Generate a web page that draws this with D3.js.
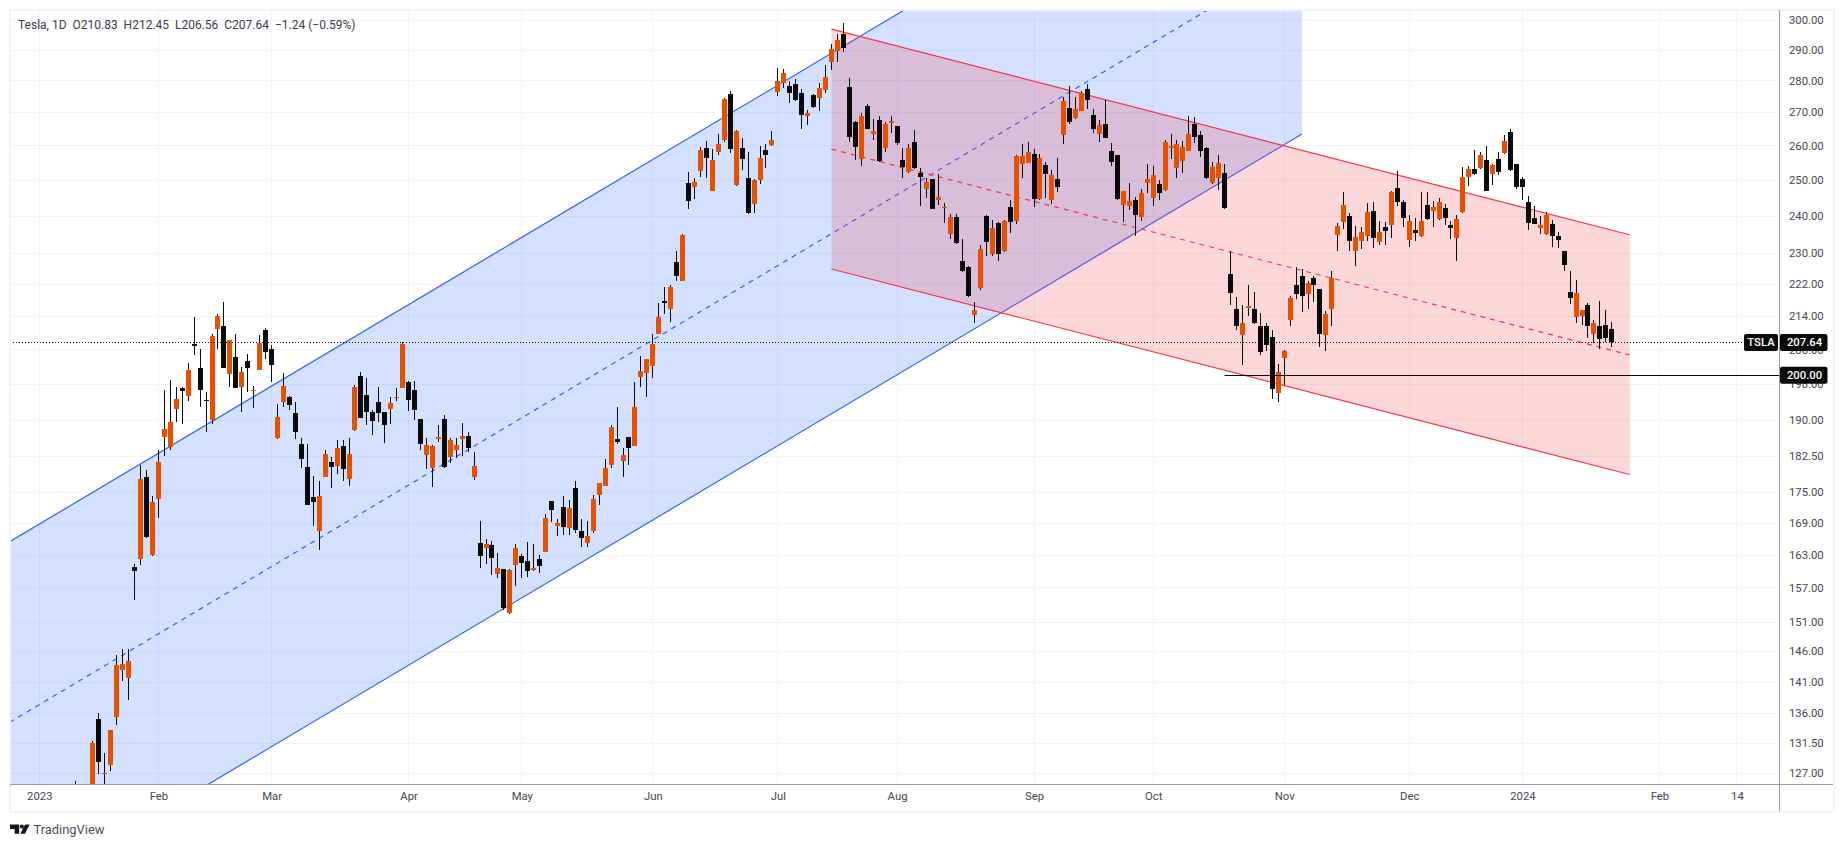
<!DOCTYPE html>
<html><head><meta charset="utf-8">
<script src="https://cdn.jsdelivr.net/npm/d3@7/dist/d3.min.js"></script>
<style>
html,body{margin:0;padding:0;background:#fff;overflow:hidden}
svg{display:block}
text{font-family:Roboto,"Liberation Sans",sans-serif}
</style></head><body>
<svg id="c" width="1843" height="847"></svg>
<script>
const firstBar = -5;
const open = [118,110,112,119.9,120,118.5,109.1,110.5,103,118.9,121,122,122.6,116.5,
125,135.1,126.9,128.2,135.5,142.9,141.6,160.7,162.2,178.1,162.9,
173.7,186.5,184.2,192.4,197.2,195.4,207.3,201.7,194.4,190.1,210.9,211.7,200.4,204.3,197.4,203.4,196.5,201.3,210.5,
206.1,186.1,194.0,195.1,191.5,185.0,180.1,174.1,167.4,178.1,181.1,180.3,184.4,177.7,187.8,199.9,195.6,191.7,194.0,191.7,192.4,194.9,197.2,
198.5,196.7,190.3,182.7,179.9,185.9,190.3,182.3,183.6,185.9,186.7,178.1,165.2,164.2,164.8,159.5,160.4,152.5,161.1,
162.7,161.8,160.2,162.2,163.5,173.3,168.4,172.1,168.0,175.9,167.4,165.2,167.4,174.5,176.3,180.5,185.9,181.3,186.5,184.6,199.7,200.6,
202.2,209.7,217.7,215.8,227.5,222.8,249.0,247.9,252.4,259.2,246.8,258.0,261.6,275.7,248.4,259.2,250.6,243.1,249.8,258.6,260.1,
276.3,279.2,278.2,278.8,276.0,268.9,275.4,274.5,277.0,286.0,289.6,295.3,277.9,267.1,256.0,272.0,263.4,267.7,259.2,266.8,
265.8,255.7,252.1,261.0,251.8,247.3,250.1,244.2,242.0,234.9,239.5,228.0,226.2,214.3,220.9,239.8,229.8,237.9,230.6,242.3,238.5,254.5,254.8,
257.4,244.5,254.2,244.2,250.1,263.1,271.3,268.3,270.4,277.3,269.2,263.4,266.5,258.3,257.1,242.9,242.6,244.2,239.5,249.2,
244.8,248.7,247.0,259.2,253.3,255.4,258.3,266.5,263.1,259.2,249.0,250.4,251.8,224.4,215.8,209.5,216.0,215.8,211.7,211.5,209.0,196.0,
204.0,213.1,221.8,223.9,219.4,223.4,220.6,209.5,215.8,234.7,238.2,239.8,230.4,233.1,234.4,241.2,232.8,236.8,237.4,247.6,243.7,
233.3,236.0,234.4,242.9,241.2,239.0,242.0,237.4,233.9,240.9,250.9,253.0,253.3,255.7,251.6,256.0,257.7,264.0,254.5,
250.1,243.7,239.3,236.6,234.9,237.7,234.4,230.4,219.9,213.8,214.1,216.7,209.7,211.7,211.9,210.83];
const high = [125.8,116.3,119.6,124.4,124,118.8,114.6,111.7,114.4,123.5,122.6,125.9,124.1,122.6,
131.7,136.1,130.0,133.5,145.3,146.3,146.3,161.3,180.5,179.5,174.3,
183.6,196.7,199.0,197.4,197.4,202.9,213.8,206.1,196.2,209.7,214.5,217.5,208.3,209.7,202.0,205.0,197.6,209.5,211.2,
207.1,193.5,200.6,195.4,194.0,186.1,185.0,178.2,177.2,183.6,182.1,185.7,185.7,186.3,197.8,200.8,199.4,192.2,197.4,191.7,195.1,197.2,207.8,
198.8,198.8,190.3,186.1,184.8,189.0,191.2,186.3,186.1,189.5,187.4,183.3,169.3,165.9,165.5,163.3,160.4,160.4,165.0,
163.1,165.3,165.0,162.9,170.7,173.3,169.7,174.3,173.5,177.2,169.7,169.3,174.5,176.9,181.7,189.0,192.8,184.0,186.5,198.5,204.5,203.8,
209.7,217.3,221.1,221.6,230.6,234.9,252.1,250.6,259.5,261.3,258.9,263.4,274.5,276.7,264.6,262.2,258.0,250.1,259.8,260.4,264.3,
284.0,283.7,279.8,280.4,277.3,270.7,275.7,279.2,285.0,291.9,295.3,299.0,280.8,267.4,269.8,272.6,268.0,268.9,267.1,268.9,
265.8,259.2,260.4,264.6,253.3,250.6,250.1,251.6,243.6,240.4,240.4,233.6,226.5,217.5,232.0,240.1,238.7,238.2,238.7,244.2,257.1,260.4,261.0,
258.9,257.4,255.1,252.7,256.3,274.8,278.2,274.8,276.7,278.8,271.0,267.7,273.8,260.7,257.1,246.9,249.2,245.1,247.3,254.5,
253.9,249.8,261.6,263.4,261.6,261.3,268.9,268.6,264.3,259.5,255.1,257.1,254.5,230.4,218.7,216.7,221.8,219.9,214.8,212.4,210.7,202.7,
205.9,218.9,226.2,225.9,222.8,223.9,220.6,215.3,225.2,237.9,246.5,240.6,237.1,236.8,243.4,243.7,238.5,238.2,246.8,252.4,244.2,
240.1,239.3,246.5,246.5,244.0,244.8,243.1,238.5,240.1,253.6,253.9,258.6,258.0,259.8,254.5,258.0,263.1,264.9,254.5,
250.9,245.3,242.6,239.8,240.9,238.7,235.5,230.6,225.2,223.1,215.5,217.2,213.1,217.7,215.5,212.45];
const low = [108,108.2,110,119,118,104.6,107.5,107.2,101.8,117.1,114.9,120.5,117,115.6,
122.5,126.9,124.5,127.4,134.2,141.1,138.1,154.8,161.1,166.2,162.7,
169.9,182.5,183.6,189.7,189.3,194.2,204.7,192.9,187.4,189.3,206.1,201.6,197.4,197.1,191.7,196.3,192.6,201.2,203.8,
198.5,185.9,192.9,192.2,185.9,179.9,172.4,168.4,163.9,178.0,175.9,178.7,177.2,176.3,187.7,190.5,189.0,186.9,189.7,185.2,189.3,194.2,197.1,
192.0,190.1,183.6,179.7,176.1,185.4,180.0,180.9,181.9,182.5,183.3,177.5,160.6,161.3,159.3,158.7,153.0,152.3,157.2,
158.7,158.9,160.0,159.6,163.4,169.1,166.5,166.7,166.7,167.1,164.4,164.4,167.1,172.5,176.2,179.9,185.0,178.1,180.5,184.5,197.4,195.1,
199.4,209.6,214.5,212.5,222.8,222.7,241.8,244.5,250.9,250.4,246.7,257.1,261.0,257.7,248.1,252.7,240.5,240.6,248.7,253.3,259.8,
275.1,277.6,272.9,273.5,264.9,266.2,271.3,270.4,276.0,283.4,286.0,289.2,261.0,255.7,253.9,264.8,261.6,255.1,258.0,263.7,
260.1,250.4,251.8,253.0,242.6,244.8,241.7,242.9,237.9,233.6,232.4,225.1,218.7,212.3,220.4,229.3,229.3,228.0,230.1,235.3,237.7,250.4,254.7,
242.3,244.4,244.8,243.1,246.5,260.4,266.5,268.0,270.3,271.0,263.7,261.0,262.1,253.9,244.2,238.2,241.5,234.4,238.5,246.2,
242.6,244.2,246.9,256.0,250.4,251.8,258.2,260.7,256.6,250.1,248.7,247.0,241.9,216.7,210.5,202.4,214.1,212.1,204.7,205.7,194.7,194.0,
197.8,211.5,218.2,215.0,215.8,217.5,206.6,205.7,211.7,230.4,236.3,230.4,226.5,230.9,233.1,231.2,232.0,232.0,233.9,242.6,236.8,
231.6,233.1,234.3,238.9,236.8,238.9,237.4,233.6,228.0,240.8,248.1,251.5,253.2,246.7,248.4,251.3,257.6,252.4,247.3,
244.2,236.0,237.6,234.9,234.8,231.6,231.2,225.2,217.0,212.2,211.9,208.8,207.6,206.1,207.8,206.56];
const close = [109,112.7,118,123.2,121,108.1,113.6,110.3,113.1,119.7,118.7,123.2,123.6,122.4,
131.5,128.6,127.0,133.4,143.7,143.9,144.4,160.0,177.7,166.3,173.1,
181.1,188.2,189.7,194.7,196.5,201.3,206.8,196.7,194.2,209.2,214.1,201.7,208.3,197.2,200.8,201.7,196.7,207.5,205.4,
202.4,190.8,197.6,193.3,187.4,181.7,172.5,173.1,174.3,182.9,180.1,184.0,179.7,182.9,197.4,190.6,191.7,189.9,191.5,189.0,193.8,195.1,207.3,
194.4,192.2,185.0,184.8,184.4,186.5,180.1,185.7,184.8,186.7,184.0,180.3,162.7,165.0,162.4,160.6,153.4,160.2,164.2,
161.4,160.0,160.6,160.9,169.9,171.6,168.9,168.2,171.9,167.6,166.1,166.5,173.7,176.9,179.9,188.6,185.4,182.7,184.0,193.0,201.1,203.8,
207.3,213.8,217.2,221.1,224.1,234.7,244.0,249.5,258.6,256.3,255.7,260.4,274.2,258.9,264.3,256.0,240.6,249.8,256.3,257.1,261.6,
279.8,282.4,276.0,273.8,269.2,269.8,271.7,277.6,281.1,290.2,293.3,290.6,262.5,259.5,268.9,264.9,264.3,255.4,266.5,267.4,
260.7,253.6,259.2,253.3,250.9,249.5,241.8,245.1,242.3,239.5,232.5,225.2,218.9,215.5,230.9,232.8,236.6,229.6,238.5,238.2,256.9,256.9,258.0,
244.5,256.3,251.6,251.3,247.9,273.5,267.1,271.0,276.0,273.8,264.9,266.2,262.2,255.1,244.5,246.8,244.0,240.1,246.2,250.1,
251.3,246.2,261.0,259.8,260.4,259.5,263.4,262.5,258.3,250.6,253.6,254.8,242.0,219.6,211.7,212.4,216.5,212.2,205.4,207.1,197.0,200.8,
205.7,218.4,219.4,218.9,222.1,221.6,209.7,214.5,223.4,237.1,242.9,233.1,234.1,235.5,240.9,233.9,235.5,235.8,246.5,243.7,239.3,
238.5,235.3,238.5,239.0,242.3,243.7,239.3,236.6,239.0,250.9,253.0,251.6,257.1,246.8,254.2,252.1,261.3,252.7,247.9,
247.9,237.9,237.7,237.4,240.1,234.4,233.3,226.8,218.4,219.6,215.5,211.7,212.2,208.5,208.8,207.64];

const priceTicks = [300,290,280,270,260,250,240,230,222,214,206,198,190,182.5,175,169,163,157,151,146,141,136,131.5,127];
const timeLabels = ["2023","Feb","Mar","Apr","May","Jun","Jul","Aug","Sep","Oct","Nov","Dec","2024","Feb","14"];
const timeBars = [0,20,39,62,81,103,124,144,167,187,209,230,249,272,285];

// channels: bar index at each end, then prices at [start, end]
const blueBars = [-5,212];
const blueUpper = [165.4,397.4];
const blueMiddle = [134.6,323.5];
const blueLower = [109.6,263.4];
const redBars = [133,267];
const redUpper = [296.9,234.8];
const redMiddle = [258.9,204.7];
const redLower = [225.8,178.6];

const lastClose = 207.64, levelPrice = 200, levelStartBar = 199, ticker = "TSLA";
const legend = "Tesla, 1D  O210.83  H212.45  L206.56  C207.64  \u22121.24 (\u22120.59%)";

const UP="#e65100", DOWN="#0a0a0a", GRID="#f2f3f7", BORDER="#f0f3fa", AXIS="#9a9ca5", TXT="#434651";
const BLUE="#2962ff", RED="#f23645";
const L=10, R=1779.5, T=10, B=784.5;

const svg=d3.select("#c");
const x=d3.scaleLinear().domain([0,264]).range([39.3,1611.8]);
const y=d3.scaleLog().domain([127,300]).range([773.3,20]);

svg.append("defs").append("clipPath").attr("id","plot").append("rect")
  .attr("x",L).attr("y",T).attr("width",R-L).attr("height",B-T);

// gridlines
const grid=svg.append("g").attr("shape-rendering","crispEdges");
grid.selectAll("line.h").data(priceTicks).join("line").attr("class","h")
  .attr("x1",L).attr("x2",R).attr("y1",d=>Math.round(y(d))+.5).attr("y2",d=>Math.round(y(d))+.5)
  .attr("stroke",GRID);
grid.selectAll("line.v").data(timeBars).join("line").attr("class","v")
  .attr("y1",T).attr("y2",B).attr("x1",d=>Math.floor(x(d))+.5).attr("x2",d=>Math.floor(x(d))+.5)
  .attr("stroke",GRID);

// channels
const plot=svg.append("g").attr("clip-path","url(#plot)");
function channel(bars,up,mid,lo,color){
  const poly=[[bars[0],up[0]],[bars[1],up[1]],[bars[1],lo[1]],[bars[0],lo[0]]];
  plot.append("polygon").attr("points",poly.map(p=>[x(p[0]),y(p[1])].join(",")).join(" "))
    .attr("fill",color).attr("fill-opacity",.2);
  [[up,null],[mid,"5,5"],[lo,null]].forEach(([v,dash])=>{
    plot.append("line").attr("x1",x(bars[0])).attr("x2",x(bars[1]))
      .attr("y1",y(v[0])).attr("y2",y(v[1]))
      .attr("stroke",color).attr("stroke-width",1.2).attr("stroke-dasharray",dash);
  });
}
channel(blueBars,blueUpper,blueMiddle,blueLower,BLUE);
channel(redBars,redUpper,redMiddle,redLower,RED);

// candles
const bars=open.map((o,k)=>({i:firstBar+k,o,h:high[k],l:low[k],c:close[k]}));
const cg=plot.append("g").attr("shape-rendering","crispEdges");
const cx=d=>Math.floor(x(d.i))+.5;
const col=d=>d.c>=d.o?UP:DOWN;
cg.selectAll("rect.w").data(bars).join("rect").attr("class","w")
  .attr("x",d=>cx(d)-.5).attr("width",1)
  .attr("y",d=>Math.round(y(d.h))).attr("height",d=>Math.max(1,Math.round(y(d.l))-Math.round(y(d.h))))
  .attr("fill",DOWN);
cg.selectAll("rect.b").data(bars).join("rect").attr("class","b")
  .attr("x",d=>cx(d)-2.5).attr("width",5)
  .attr("y",d=>Math.round(y(Math.max(d.o,d.c))))
  .attr("height",d=>Math.max(1,Math.round(y(Math.min(d.o,d.c)))-Math.round(y(Math.max(d.o,d.c)))))
  .attr("fill",col);

// last price dotted line and level ray
const py=Math.round(y(lastClose))+.5, ly=Math.round(y(levelPrice))+.5;
svg.append("line").attr("x1",L).attr("x2",1743).attr("y1",py).attr("y2",py)
  .attr("stroke","#000").attr("stroke-dasharray","1,2");
svg.append("line").attr("x1",x(levelStartBar)).attr("x2",R).attr("y1",ly).attr("y2",ly).attr("stroke","#0a0a0a");

// axes
const yAxis=d3.axisRight(y).tickValues(priceTicks).tickFormat(d3.format(".2f")).tickSize(0).tickPadding(9.5);
const ya=svg.append("g").attr("transform",`translate(${R},0)`).call(yAxis);
ya.select(".domain").remove();
ya.selectAll("text").attr("font-size",11.3).attr("fill",TXT).attr("font-family","Roboto,sans-serif");

const xAxis=d3.axisBottom(x).tickValues(timeBars).tickFormat((d,k)=>timeLabels[k]).tickSize(0).tickPadding(7);
const xa=svg.append("g").attr("transform",`translate(0,${B})`).call(xAxis);
xa.select(".domain").remove();
xa.selectAll("text").attr("font-size",11.3).attr("fill",TXT).attr("font-family","Roboto,sans-serif");

// frame + axis borders
const fr=svg.append("g").attr("shape-rendering","crispEdges");
fr.append("rect").attr("x",10).attr("y",10).attr("width",1823.5).attr("height",802)
  .attr("fill","none").attr("stroke",BORDER).attr("stroke-width",2);
fr.append("line").attr("x1",L).attr("x2",1833).attr("y1",B).attr("y2",B).attr("stroke",AXIS);
fr.append("line").attr("x1",R).attr("x2",R).attr("y1",T).attr("y2",811).attr("stroke",AXIS);

// badges
function badge(x0,w,yc,txt,anchorX){
  svg.append("rect").attr("x",x0).attr("y",yc-8.5).attr("width",w).attr("height",17).attr("rx",2).attr("fill","#0a0a0a");
  svg.append("text").attr("x",anchorX).attr("y",yc).attr("dy","0.35em").attr("fill","#fff").attr("font-size",11.3)
    .attr("font-weight",500).attr("text-anchor","middle").text(txt);
}
badge(1744,34,y(lastClose),ticker,1761);
badge(1780,47.5,y(lastClose),d3.format(".2f")(lastClose),1804.5);
badge(1780,47.5,y(levelPrice),d3.format(".2f")(levelPrice),1804.5);

// legend
svg.append("text").attr("x",18).attr("y",25).attr("dy","0.35em").attr("font-size",12).attr("fill","#3a3d47")
  .attr("xml:space","preserve").style("white-space","pre").text(legend);

// TradingView mark
const lg=svg.append("g").attr("fill","#131722");
lg.append("path").attr("d","M10 824.5H19.2V833.7H14.6V828.9H10Z");
lg.append("circle").attr("cx",21.9).attr("cy",826.6).attr("r",2.1);
lg.append("path").attr("d","M25 824.5H29.6L25 833.7H20.4Z");
svg.append("text").attr("x",33.5).attr("y",829.5).attr("dy","0.35em").attr("font-size",12.9).attr("fill","#4a4e5a").text("TradingView");
</script>
</body></html>
